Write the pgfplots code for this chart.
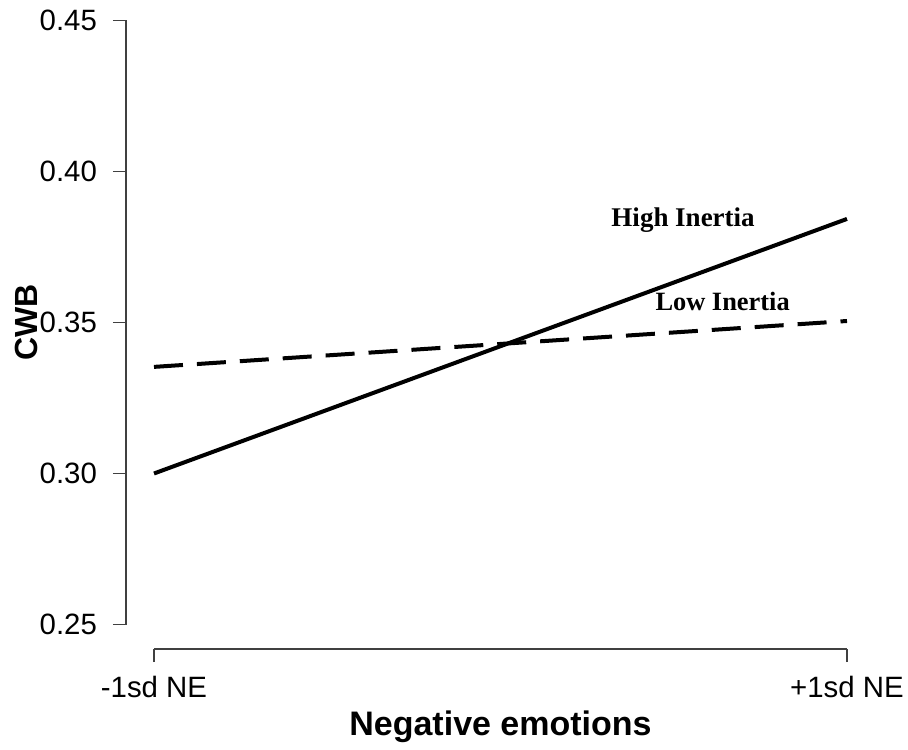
\documentclass[border=0pt]{standalone}
\usepackage{pgfplots}
\pgfplotsset{compat=1.18}
\usepackage{fontspec}
\setmainfont{Liberation Sans}
\newfontfamily\serifb{Liberation Serif}
\begin{document}
\begin{tikzpicture}
\begin{axis}[
  scale only axis,
  width=346.5pt, height=302pt,
  at={(77pt,62.25pt)}, anchor=south west,
  xmin=-1, xmax=1, ymin=0.25, ymax=0.45,
  axis lines*=left,
  axis x line shift=12.25pt,
  axis y line shift=14pt,
  axis line style={-, line width=0.8pt, black!75},
  tick style={line width=0.8pt, black!75},
  tick align=outside,
  major tick length=6.5pt,
  xtick={-1,1}, xticklabels={-1sd NE,+1sd NE},
  ytick={0.25,0.30,0.35,0.40,0.45},
  yticklabel style={/pgf/number format/fixed, /pgf/number format/fixed zerofill, /pgf/number format/precision=2, xshift=-4.5pt},
  xticklabel style={yshift=-3.5pt},
  /pgf/number format/assume math mode=true,
  ticklabel style={font=\fontsize{14.7}{17}\selectfont},
  xlabel={Negative emotions}, ylabel={CWB},
  xlabel style={font=\bfseries\fontsize{17}{20}\selectfont, at={([yshift=-55.25pt]axis description cs:0.5,0)}, anchor=base},
  ylabel style={font=\bfseries\fontsize{16}{19}\selectfont, at={([xshift=-58pt]axis description cs:0,0.5)}, anchor=base},
  clip=false,
]
\addplot[line width=2pt, black] coordinates {(-1,0.300) (1,0.3843)};
\addplot[line width=2pt, black, dash pattern=on 14.5pt off 7pt] coordinates {(-1,0.3353) (1,0.3505)};
\node[font=\serifb\bfseries\fontsize{13.5}{15}\selectfont] at (axis cs:0.527,0.3839) {High Inertia};
\node[font=\serifb\bfseries\fontsize{13.2}{15}\selectfont] at (axis cs:0.641,0.3569) {Low Inertia};
\end{axis}
\pgfresetboundingbox
\useasboundingbox (0,0) rectangle (454pt,374.5pt);
\end{tikzpicture}
\end{document}
